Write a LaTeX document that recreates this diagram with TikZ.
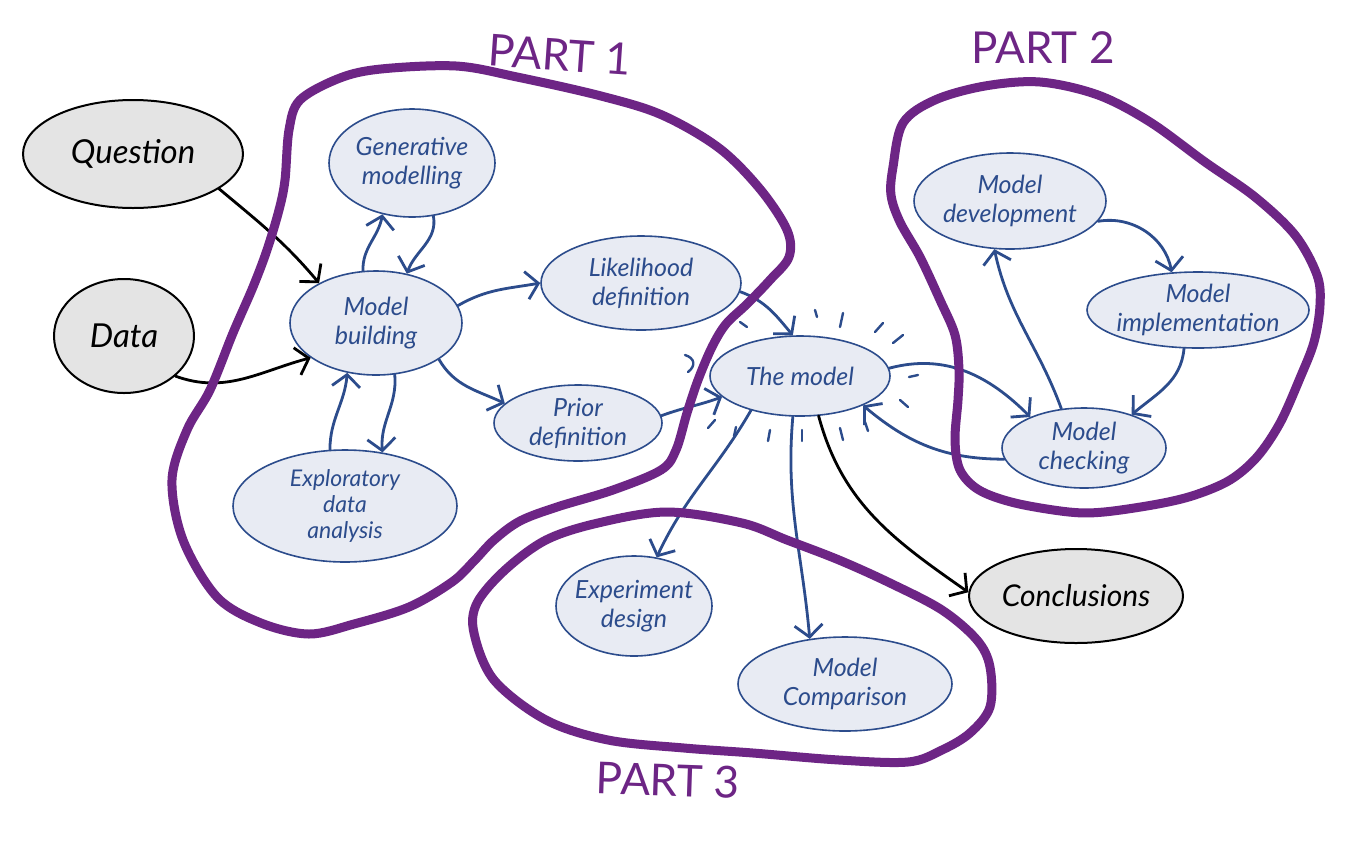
\documentclass[tikz,border=0pt]{standalone}
\usepackage{fontspec}
\setmainfont{Lato}
\usetikzlibrary{shapes.geometric,arrows.meta}
\definecolor{bl}{RGB}{44,76,140}
\definecolor{blfill}{RGB}{232,235,243}
\definecolor{gfill}{RGB}{228,228,228}
\definecolor{pu}{RGB}{109,37,133}
\begin{document}
\begin{tikzpicture}[x=1pt,y=1pt,
  bnode/.style={ellipse, draw=bl, fill=blfill, line width=1.6pt, inner sep=0pt},
  gnode/.style={ellipse, draw=black, fill=gfill, line width=2pt, inner sep=0pt},
  btext/.style={text=bl, font=\fontsize{25}{29}\selectfont\itshape, align=center, inner sep=0pt},
  ktext/.style={text=black, font=\fontsize{33}{36}\selectfont\itshape, align=center, inner sep=0pt},
  barrow/.style={draw=bl, line width=2.8pt, line cap=round, -{Straight Barb[length=12pt,width=28pt]}},
  karrow/.style={draw=black, line width=2.8pt, line cap=round, -{Straight Barb[length=12pt,width=28pt]}},
  grouploop/.style={draw=pu, line width=9pt, line join=round},
  ray/.style={draw=bl, line width=2.4pt, line cap=round},
  partlabel/.style={text=pu, inner sep=0pt, font=\fontsize{44}{44}\selectfont}]
\useasboundingbox (0,0) rectangle (1356,-847);
\fill[white] (0,0) rectangle (1356,-847);

% nodes
\node[gnode, minimum width=220, minimum height=108, label={[ktext]center:Question}] (q) at (133,-154) {};
\node[gnode, minimum width=140, minimum height=114, label={[ktext]center:Data}] (data) at (124,-336) {};
\node[gnode, minimum width=214, minimum height=94, label={[ktext,font=\fontsize{30}{34}\selectfont\itshape]center:Conclusions}] (concl) at (1076,-596) {};

\node[bnode, minimum width=166, minimum height=108, label={[btext]center:Generative\\modelling}] (gm) at (412,-163) {};
\node[bnode, minimum width=172, minimum height=104, label={[btext]center:Model\\building}] (mb) at (376,-323) {};
\node[bnode, minimum width=200, minimum height=94, label={[btext]center:Likelihood\\definition}] (lk) at (641,-283) {};
\node[bnode, minimum width=168, minimum height=76, label={[btext]center:Prior\\definition}] (pr) at (578,-423) {};
\node[bnode, minimum width=224, minimum height=112, label={[btext,font=\fontsize{23}{26}\selectfont\itshape]center:Exploratory\\data\\analysis}] (eda) at (345,-506) {};
\node[bnode, minimum width=180, minimum height=80, label={[btext]center:The model}] (tm) at (800,-376) {};
\node[bnode, minimum width=192, minimum height=96, label={[btext]center:Model\\development}] (dev) at (1010,-201) {};
\node[bnode, minimum width=222, minimum height=76, label={[btext]center:Model\\implementation}] (impl) at (1198,-310) {};
\node[bnode, minimum width=164, minimum height=80, label={[btext]center:Model\\checking}] (chk) at (1084,-448) {};
\node[bnode, minimum width=156, minimum height=100, label={[btext]center:Experiment\\design}] (ed) at (634,-606) {};
\node[bnode, minimum width=214, minimum height=94, label={[btext]center:Model\\Comparison}] (mcmp) at (845,-684) {};

% black arrows
\draw[karrow] (q.-22) to[out=-40,in=130] (mb.145);
\draw[karrow] (data.-38) to[out=-20,in=195] (mb.208);
\draw[karrow] (tm.-65) to[out=-75,in=145] (concl.178);

% blue arrows
\draw[barrow] (mb.104) to[out=92,in=-100] (gm.240);
\draw[barrow] (gm.-68) to[out=-80,in=70] (mb.58);
\draw[barrow] (mb.12) to[out=30,in=190] (lk.180);
\draw[barrow] (mb.-30) to[out=-60,in=155] (pr.165);
\draw[barrow] (mb.-70) to[out=-85,in=95] (eda.55);
\draw[barrow] (eda.105) to[out=90,in=-95] (mb.-120);
\draw[barrow] (lk.-5) to[out=-20,in=130] (tm.100);
\draw[barrow] (pr.5) to[out=20,in=200] (tm.195);
\draw[barrow] (tm.215) to[out=-120,in=65] (ed.65);
\draw[barrow] (tm.-100) to[out=-95,in=95] (mcmp.128);
\draw[barrow] (tm.5) to[out=15,in=135] (chk.150);
\draw[barrow] (chk.188) to[out=180,in=-40] (tm.-25);
\draw[barrow] (dev.-13) to[out=10,in=100] (impl.125);
\draw[barrow] (impl.-110) to[out=-95,in=40] (chk.35);
\draw[barrow] (chk.120) to[out=110,in=-78] (dev.-108);

% rays around the model
\draw[ray] (815,-310) -- (817,-317);
\draw[ray] (843,-313) -- (840,-327);
\draw[ray] (883,-323) -- (875,-332);
\draw[ray] (903,-335) -- (893,-343);
\draw[ray] (918,-375) -- (909,-377);
\draw[ray] (900,-400) -- (908,-407);
\draw[ray] (865,-422) -- (868,-431);
\draw[ray] (840,-428) -- (843,-440);
\draw[ray] (802,-430) -- (802,-441);
\draw[ray] (770,-430) -- (768,-441);
\draw[ray] (736,-427) -- (734,-436);
\draw[ray] (715,-420) -- (708,-428);
\draw[ray] (740,-322) -- (747,-327);
\draw[ray] (685,-355) .. controls (695,-358) and (696,-366) .. (688,-372);

% group loops
\draw[grouploop] plot[smooth cycle, tension=0.55] coordinates {
 (300,-100) (340,-78) (381,-69) (456,-66) (517,-77) (601,-96) (662,-115) (719,-148)
 (760,-189) (787,-230) (789,-257) (770,-280) (747,-304) (726,-324) (712,-347) (698,-380)
 (687,-413) (676,-450) (661,-470) (613,-490) (557,-507) (520,-521) (494,-540) (474,-561)
 (452,-582) (409,-607) (354,-624) (309,-634) (261,-623) (217,-597) (183,-540) (172,-480)
 (187,-430) (210,-390) (233,-333) (253,-287) (267,-250) (279,-210) (285,-180) (289,-130)};
\draw[grouploop] plot[smooth cycle, tension=0.55] coordinates {
 (893,-167) (903,-123) (935,-100) (985,-86) (1040,-82) (1098,-95) (1150,-122)
 (1205,-162) (1255,-197) (1295,-235) (1317,-275) (1320,-305) (1314,-342) (1300,-378) (1280,-423)
 (1257,-457) (1230,-480) (1195,-495) (1158,-504) (1104,-512) (1069,-512) (1015,-503)
 (979,-490) (960,-470) (955,-440) (958,-400) (959,-370) (955,-335) (940,-300) (920,-257)
 (900,-222) (891,-195)};
\draw[grouploop] plot[smooth cycle, tension=0.55] coordinates {
 (667,-512) (742,-523) (787,-540) (839,-560) (890,-583) (942,-610) (977,-640) (990,-667)
 (990,-707) (970,-733) (942,-750) (908,-762) (839,-760) (753,-753) (684,-748) (608,-740)
 (546,-720) (494,-680) (474,-633) (477,-603) (505,-570) (546,-540) (598,-523)};

% part labels
\node[partlabel, rotate=-4] (p1) at (560,-55) {PART 1};
\node[partlabel] (p2) at (1043,-48) {PART 2};
\node[partlabel, rotate=-2] (p3) at (668,-780) {PART 3};
\end{tikzpicture}
\end{document}
